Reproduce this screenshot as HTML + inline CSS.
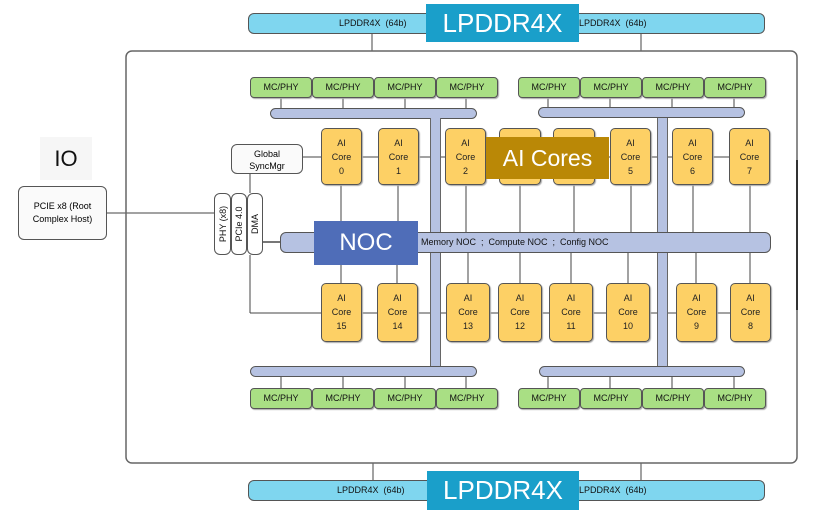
<!DOCTYPE html>
<html><head><meta charset="utf-8">
<style>
body{margin:0;width:837px;height:521px;background:#fff;overflow:hidden;position:relative;font-family:"Liberation Sans",sans-serif;}
.a{position:absolute;box-sizing:border-box;}
.mc{background:#a9df84;border:1px solid #555;border-radius:4px;font-size:9px;color:#111;text-align:center;line-height:18px;height:21px;box-shadow:1px 1px 1px #aaa;}
.core{background:#fdd065;border:1px solid #555;border-radius:5px;font-size:9px;color:#222;text-align:center;line-height:14px;padding-top:7px;box-shadow:1px 1px 1px #aaa;}
.bar{background:#b6c2e2;border:1px solid #555;border-radius:6px;}
.ddr{background:#7fd6ef;border:1px solid #555;border-radius:6px;font-size:9px;color:#111;line-height:19px;}
.lbl{color:#fff;text-align:center;}
.ph{background:#fff;border:1px solid #555;border-radius:6px;}
.rt{position:absolute;left:50%;top:50%;transform:translate(-50%,-50%) rotate(-90deg);font-size:9px;white-space:nowrap;color:#111;}
</style></head><body>
<svg class="a" style="left:0;top:0" width="837" height="521">
<g stroke="#444" stroke-width="1" fill="none">
<line x1="372" y1="33" x2="372" y2="51"/><line x1="641" y1="33" x2="641" y2="51"/>
<line x1="373" y1="463" x2="373" y2="480"/><line x1="641" y1="463" x2="641" y2="480"/>
<line x1="281" y1="97" x2="281" y2="108"/><line x1="343" y1="97" x2="343" y2="108"/><line x1="405" y1="97" x2="405" y2="108"/><line x1="466" y1="97" x2="466" y2="108"/>
<line x1="548" y1="97" x2="548" y2="108"/><line x1="610" y1="97" x2="610" y2="108"/><line x1="672" y1="97" x2="672" y2="108"/><line x1="734" y1="97" x2="734" y2="108"/>
<line x1="281" y1="376" x2="281" y2="388"/><line x1="343" y1="376" x2="343" y2="388"/><line x1="405" y1="376" x2="405" y2="388"/><line x1="466" y1="376" x2="466" y2="388"/>
<line x1="548" y1="376" x2="548" y2="388"/><line x1="610" y1="376" x2="610" y2="388"/><line x1="672" y1="376" x2="672" y2="388"/><line x1="734" y1="376" x2="734" y2="388"/>
<line x1="303" y1="157" x2="770" y2="157"/>
<line x1="250" y1="313" x2="770" y2="313"/>
<line x1="250" y1="255" x2="250" y2="313"/>
<line x1="250" y1="174" x2="250" y2="193"/>
<line x1="107" y1="213" x2="214" y2="213"/>
<line x1="262" y1="242" x2="280" y2="242" stroke-width="2" stroke="#777"/>
<line x1="341" y1="185" x2="341" y2="232"/><line x1="398" y1="185" x2="398" y2="232"/>
<line x1="466" y1="185" x2="466" y2="232"/><line x1="520" y1="185" x2="520" y2="232"/>
<line x1="574" y1="185" x2="574" y2="232"/><line x1="631" y1="185" x2="631" y2="232"/>
<line x1="693" y1="185" x2="693" y2="232"/><line x1="750" y1="185" x2="750" y2="232"/>
<line x1="341" y1="253" x2="341" y2="283"/><line x1="397" y1="253" x2="397" y2="283"/>
<line x1="468" y1="253" x2="468" y2="283"/><line x1="520" y1="253" x2="520" y2="283"/>
<line x1="571" y1="253" x2="571" y2="283"/><line x1="628" y1="253" x2="628" y2="283"/>
<line x1="696" y1="253" x2="696" y2="283"/><line x1="750" y1="253" x2="750" y2="283"/>
</g>
<rect x="126" y="51" width="671" height="412" rx="6" fill="none" stroke="#666" stroke-width="1.5"/>
<line x1="797" y1="160" x2="797" y2="310" stroke="#333" stroke-width="2"/>
</svg>
<div class="a" style="left:40px;top:137px;width:52px;height:43px;background:#f6f6f6;font-size:22px;text-align:center;line-height:43px;color:#111;">IO</div>
<div class="a ph" style="left:18px;top:186px;width:89px;height:54px;border-radius:6px;font-size:9px;text-align:center;padding-top:13px;line-height:13px;background:#fafafa;">PCIE x8 (Root<br>Complex Host)</div>
<div class="a ph" style="left:231px;top:144px;width:72px;height:30px;font-size:9px;text-align:center;padding-top:3px;line-height:12px;background:#fafafa;">Global<br>SyncMgr</div>
<div class="a ph" style="left:214px;top:193px;width:17px;height:62px;"><span class="rt">PHY (x8)</span></div>
<div class="a ph" style="left:231px;top:193px;width:16px;height:62px;"><span class="rt">PCIe 4.0</span></div>
<div class="a ph" style="left:247px;top:193px;width:16px;height:62px;"><span class="rt">DMA</span></div>

<div class="a ddr" style="left:248px;top:13px;width:517px;height:21px;"><span class="a" style="left:90px">LPDDR4X&nbsp; (64b)</span><span class="a" style="left:330px">LPDDR4X&nbsp; (64b)</span></div>
<div class="a lbl" style="left:426px;top:4px;width:153px;height:38px;background:#1a9fca;font-size:26px;line-height:38px;">LPDDR4X</div>
<div class="a ddr" style="left:248px;top:480px;width:517px;height:21px;"><span class="a" style="left:88px">LPDDR4X&nbsp; (64b)</span><span class="a" style="left:330px">LPDDR4X&nbsp; (64b)</span></div>
<div class="a lbl" style="left:427px;top:471px;width:152px;height:39px;background:#1a9fca;font-size:26px;line-height:39px;">LPDDR4X</div>

<div class="a mc" style="left:250px;top:77px;width:62px">MC/PHY</div>
<div class="a mc" style="left:312px;top:77px;width:62px">MC/PHY</div>
<div class="a mc" style="left:374px;top:77px;width:62px">MC/PHY</div>
<div class="a mc" style="left:436px;top:77px;width:62px">MC/PHY</div>
<div class="a mc" style="left:518px;top:77px;width:62px">MC/PHY</div>
<div class="a mc" style="left:580px;top:77px;width:62px">MC/PHY</div>
<div class="a mc" style="left:642px;top:77px;width:62px">MC/PHY</div>
<div class="a mc" style="left:704px;top:77px;width:62px">MC/PHY</div>
<div class="a mc" style="left:250px;top:388px;width:62px">MC/PHY</div>
<div class="a mc" style="left:312px;top:388px;width:62px">MC/PHY</div>
<div class="a mc" style="left:374px;top:388px;width:62px">MC/PHY</div>
<div class="a mc" style="left:436px;top:388px;width:62px">MC/PHY</div>
<div class="a mc" style="left:518px;top:388px;width:62px">MC/PHY</div>
<div class="a mc" style="left:580px;top:388px;width:62px">MC/PHY</div>
<div class="a mc" style="left:642px;top:388px;width:62px">MC/PHY</div>
<div class="a mc" style="left:704px;top:388px;width:62px">MC/PHY</div>

<div class="a bar" style="left:270px;top:108px;width:207px;height:11px;"></div>
<div class="a bar" style="left:538px;top:107px;width:207px;height:11px;"></div>
<div class="a bar" style="left:250px;top:366px;width:227px;height:11px;"></div>
<div class="a bar" style="left:539px;top:366px;width:206px;height:11px;"></div>
<div class="a" style="left:430px;top:118px;width:11px;height:248px;background:#b6c2e2;border-left:1px solid #666;border-right:1px solid #666;"></div>
<div class="a" style="left:657px;top:118px;width:11px;height:248px;background:#b6c2e2;border-left:1px solid #666;border-right:1px solid #666;"></div>

<div class="a bar" style="left:280px;top:232px;width:491px;height:21px;font-size:9px;line-height:19px;"><span class="a" style="left:140px;color:#111;">Memory NOC&nbsp; ;&nbsp; Compute NOC&nbsp; ;&nbsp; Config NOC</span></div>
<div class="a lbl" style="left:314px;top:221px;width:104px;height:44px;background:#4f6db8;font-size:24px;line-height:44px;">NOC</div>

<div class="a core" style="left:321px;top:128px;width:41px;height:57px">AI<br>Core<br>0</div>
<div class="a core" style="left:378px;top:128px;width:41px;height:57px">AI<br>Core<br>1</div>
<div class="a core" style="left:445px;top:128px;width:41px;height:57px">AI<br>Core<br>2</div>
<div class="a core" style="left:499px;top:128px;width:42px;height:57px"></div>
<div class="a core" style="left:553px;top:128px;width:42px;height:57px"></div>
<div class="a core" style="left:610px;top:128px;width:41px;height:57px">AI<br>Core<br>5</div>
<div class="a core" style="left:672px;top:128px;width:41px;height:57px">AI<br>Core<br>6</div>
<div class="a core" style="left:729px;top:128px;width:41px;height:57px">AI<br>Core<br>7</div>
<div class="a lbl" style="left:486px;top:137px;width:123px;height:42px;background:#ba8806;font-size:23px;line-height:42px;">AI Cores</div>

<div class="a core" style="left:321px;top:283px;width:41px;height:59px">AI<br>Core<br>15</div>
<div class="a core" style="left:377px;top:283px;width:41px;height:59px">AI<br>Core<br>14</div>
<div class="a core" style="left:446px;top:283px;width:44px;height:59px">AI<br>Core<br>13</div>
<div class="a core" style="left:498px;top:283px;width:44px;height:59px">AI<br>Core<br>12</div>
<div class="a core" style="left:549px;top:283px;width:44px;height:59px">AI<br>Core<br>11</div>
<div class="a core" style="left:606px;top:283px;width:44px;height:59px">AI<br>Core<br>10</div>
<div class="a core" style="left:676px;top:283px;width:41px;height:59px">AI<br>Core<br>9</div>
<div class="a core" style="left:730px;top:283px;width:41px;height:59px">AI<br>Core<br>8</div>
</body></html>
